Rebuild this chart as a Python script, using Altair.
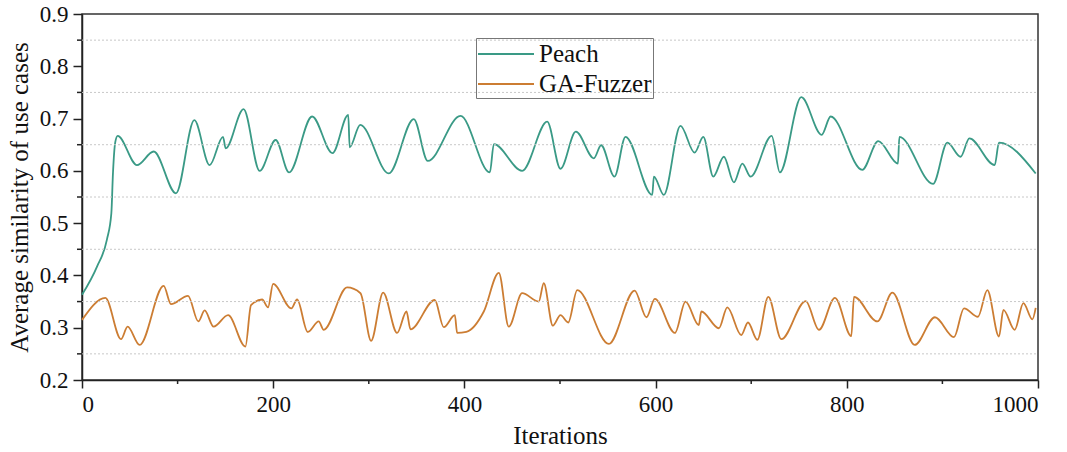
import altair as alt
import pandas as pd

# Peach series (iteration, similarity)
peach_x = [0, 15.7, 26, 30.7, 32.4, 34.8, 37.3, 57.5, 75, 98.3, 117.5, 133.5, 147.5, 150.3,
           169, 185.8, 202.6, 216.6, 240.7, 262, 278.5, 280, 291, 320.9, 347, 361.7, 395.9,
           426.6, 430.8, 460.4, 486.6, 500.5, 516.6, 535.4, 543, 557, 568.5, 596.5, 598.2,
           608.6, 626, 640.8, 649.9, 660.3, 671.4, 681.9, 690.7, 699.4, 721.4, 730, 752.4,
           773.7, 783.1, 816.2, 832.9, 853.5, 855.0, 890.2, 905.2, 919.1, 928.2, 954.7,
           959.2, 997.6]
peach_y = [0.363, 0.417, 0.468, 0.519, 0.596, 0.655, 0.667, 0.611, 0.637, 0.557, 0.697, 0.611,
           0.665, 0.643, 0.718, 0.600, 0.659, 0.597, 0.704, 0.634, 0.707, 0.645, 0.688, 0.595,
           0.699, 0.619, 0.705, 0.597, 0.651, 0.600, 0.694, 0.604, 0.675, 0.624, 0.649, 0.589,
           0.665, 0.554, 0.589, 0.554, 0.686, 0.635, 0.665, 0.589, 0.627, 0.578, 0.614, 0.589,
           0.667, 0.597, 0.741, 0.669, 0.704, 0.602, 0.657, 0.614, 0.665, 0.575, 0.654, 0.627,
           0.662, 0.611, 0.654, 0.595]

# GA-Fuzzer series
ga_x = [0, 24.4, 40.8, 47.7, 60.3, 85.4, 93.1, 110.9, 121.7, 128.3, 137.7, 152.8, 170.9,
        176.8, 188.4, 194.6, 199.9, 219, 225, 236.1, 247.6, 252.8, 277.3, 291.3, 302.4, 315,
        329.6, 339.4, 343.6, 369, 378.4, 390, 392.4, 402, 420.3, 436, 446.4, 460.4, 477.8,
        483, 492.5, 500.5, 508.6, 518, 551.1, 578, 590.5, 599.2, 620.2, 631.3, 645.2, 647.8,
        666.2, 675, 689.6, 696.6, 706.4, 717.9, 731.5, 757, 770.9, 787.6, 804.7, 807.5, 832,
        847.7, 871, 892.2, 912.1, 922.6, 937.2, 947, 959.2, 963.8, 975.6, 984.7, 994.1, 997.6]
ga_y = [0.315, 0.357, 0.278, 0.302, 0.267, 0.380, 0.345, 0.361, 0.312, 0.333, 0.302, 0.324,
        0.264, 0.343, 0.354, 0.339, 0.384, 0.337, 0.354, 0.292, 0.312, 0.296, 0.377, 0.366,
        0.275, 0.367, 0.290, 0.331, 0.297, 0.353, 0.301, 0.324, 0.290, 0.292, 0.331, 0.405,
        0.302, 0.366, 0.350, 0.385, 0.304, 0.324, 0.310, 0.372, 0.269, 0.371, 0.320, 0.355,
        0.290, 0.350, 0.305, 0.331, 0.299, 0.339, 0.286, 0.310, 0.277, 0.359, 0.278, 0.351,
        0.296, 0.357, 0.284, 0.359, 0.312, 0.367, 0.267, 0.320, 0.282, 0.337, 0.321, 0.372,
        0.283, 0.334, 0.296, 0.347, 0.316, 0.338]

series_names = ["Peach", "GA-Fuzzer"]
series_colors = ["#3a9a86", "#cc7d33"]

grid_vals = [0.25, 0.35, 0.45, 0.55, 0.65, 0.75, 0.85]
x_minor = [100, 300, 500, 700, 900]
x_major = [0, 200, 400, 600, 800, 1000]
y_major = [0.2, 0.3, 0.4, 0.5, 0.6, 0.7, 0.8, 0.9]

FONT = "Liberation Serif"

df = pd.concat([
    pd.DataFrame({"it": peach_x, "val": peach_y, "series": "Peach", "ord": range(len(peach_x))}),
    pd.DataFrame({"it": ga_x, "val": ga_y, "series": "GA-Fuzzer", "ord": range(len(ga_x))}),
])

xscale = alt.Scale(domain=[0, 1000], nice=False, zero=False)
yscale = alt.Scale(domain=[0.2, 0.9], nice=False, zero=False)

x_axis = alt.Axis(title="Iterations", values=x_major, format="d",
                  grid=False, tickSize=8, labelPadding=5, titlePadding=7)
y_axis = alt.Axis(title="Average similarity of use cases", values=y_major,
                  format=".1f", grid=False, tickSize=9, labelPadding=5, titlePadding=7)

lines = alt.Chart(df).mark_line(interpolate="monotone", strokeWidth=1.8).encode(
    x=alt.X("it:Q", scale=xscale, axis=x_axis),
    y=alt.Y("val:Q", scale=yscale, axis=y_axis),
    color=alt.Color("series:N", scale=alt.Scale(domain=series_names, range=series_colors),
                    legend=alt.Legend(title=None, orient="none", legendX=394, legendY=24,
                                      symbolType="M-1,0H3", symbolSize=784,
                                      symbolStrokeWidth=1.8, labelFontSize=25,
                                      labelFont=FONT, labelColor="#111",
                                      strokeColor="#777", padding=1, rowPadding=2,
                                      labelOffset=32, symbolOffset=0)),
    order="ord:Q",
)

grid = alt.Chart(pd.DataFrame({"g": grid_vals})).mark_rule(
    color="#c8c8c8", strokeDash=[2, 2], strokeWidth=1
).encode(y=alt.Y("g:Q", scale=yscale, axis=y_axis), x=alt.value(0), x2=alt.value(956))

yminor = alt.Chart(pd.DataFrame({"g": grid_vals})).mark_rule(
    color="#222", strokeWidth=1.5
).encode(y=alt.Y("g:Q", scale=yscale, axis=y_axis), x=alt.value(-5), x2=alt.value(0))

xminor = alt.Chart(pd.DataFrame({"m": x_minor})).mark_rule(
    color="#222", strokeWidth=1.5
).encode(x=alt.X("m:Q", scale=xscale, axis=x_axis), y=alt.value(366), y2=alt.value(370))

chart = alt.layer(lines, grid, yminor, xminor).properties(
    width=956, height=366,
    autosize=alt.AutoSizeParams(type="none"),
    padding={"left": 82, "top": 14, "right": 29, "bottom": 72},
    background="white",
).configure(
    font=FONT
).configure_view(
    stroke="#333", strokeWidth=1.5
).configure_axis(
    domainColor="#222", domainWidth=1.5, tickColor="#222", tickWidth=1.5,
    labelFont=FONT, labelFontSize=23, labelColor="#111",
    titleFont=FONT, titleFontSize=25, titleColor="#111", titleFontWeight="normal",
)

chart.save("out.html", embed_options={"renderer": "svg", "actions": False})
